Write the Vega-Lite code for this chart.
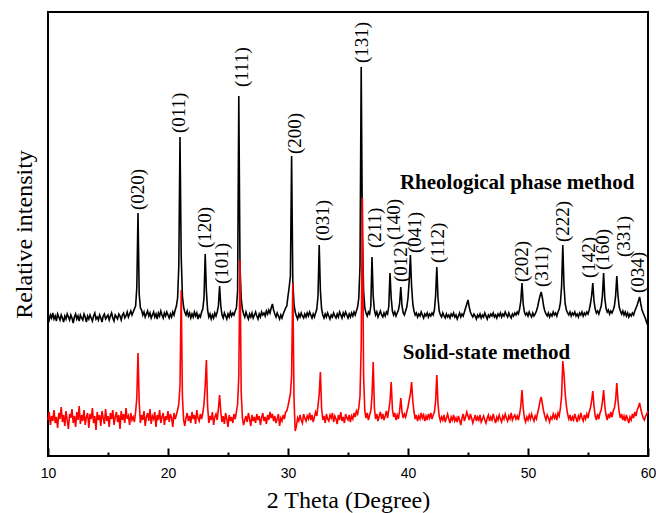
{
  "$schema": "https://vega.github.io/schema/vega-lite/v6.json",
  "width": 600,
  "height": 444,
  "autosize": {"type": "none"},
  "padding": {"left": 48, "top": 12, "right": 8, "bottom": 57},
  "background": "white",
  "config": {
    "view": {"stroke": "black", "strokeWidth": 2},
    "axis": {"grid": false}
  },
  "data": {"values": [
{"t":10.0,"a":140,"b":36},{"t":10.1,"a":136,"b":44},{"t":10.2,"a":141,"b":31},{"t":10.3,"a":138,"b":40},{"t":10.4,"a":143,"b":35},{"t":10.5,"a":137,"b":46},{"t":10.6,"a":140,"b":33},{"t":10.7,"a":135,"b":39},{"t":10.8,"a":142,"b":28},{"t":10.9,"a":139,"b":43},
{"t":11.0,"a":136,"b":37},{"t":11.1,"a":141,"b":49},{"t":11.2,"a":138,"b":34},{"t":11.3,"a":134,"b":41},{"t":11.4,"a":140,"b":30},{"t":11.5,"a":137,"b":45},{"t":11.6,"a":142,"b":36},{"t":11.7,"a":139,"b":27},{"t":11.8,"a":136,"b":42},{"t":11.9,"a":141,"b":38},
{"t":12.0,"a":138,"b":47},{"t":12.1,"a":133,"b":33},{"t":12.2,"a":139,"b":40},{"t":12.3,"a":142,"b":29},{"t":12.4,"a":137,"b":44},{"t":12.5,"a":140,"b":36},{"t":12.6,"a":135,"b":50},{"t":12.7,"a":141,"b":32},{"t":12.8,"a":138,"b":41},{"t":12.9,"a":136,"b":35},
{"t":13.0,"a":142,"b":46},{"t":13.1,"a":139,"b":31},{"t":13.2,"a":134,"b":39},{"t":13.3,"a":140,"b":43},{"t":13.4,"a":137,"b":28},{"t":13.5,"a":141,"b":42},{"t":13.6,"a":138,"b":37},{"t":13.7,"a":135,"b":48},{"t":13.8,"a":140,"b":33},{"t":13.9,"a":143,"b":40},
{"t":14.0,"a":137,"b":26},{"t":14.1,"a":139,"b":44},{"t":14.2,"a":136,"b":36},{"t":14.3,"a":141,"b":41},{"t":14.4,"a":138,"b":30},{"t":14.5,"a":134,"b":45},{"t":14.6,"a":140,"b":38},{"t":14.7,"a":142,"b":32},{"t":14.8,"a":137,"b":47},{"t":14.9,"a":139,"b":35},
{"t":15.0,"a":141,"b":40},{"t":15.1,"a":136,"b":29},{"t":15.2,"a":140,"b":43},{"t":15.3,"a":143,"b":37},{"t":15.4,"a":138,"b":46},{"t":15.5,"a":135,"b":31},{"t":15.6,"a":141,"b":39},{"t":15.7,"a":139,"b":44},{"t":15.8,"a":137,"b":34},{"t":15.9,"a":142,"b":41},
{"t":16.0,"a":140,"b":27},{"t":16.1,"a":136,"b":45},{"t":16.2,"a":141,"b":36},{"t":16.3,"a":143,"b":42},{"t":16.4,"a":138,"b":33},{"t":16.5,"a":140,"b":48},{"t":16.6,"a":144,"b":37},{"t":16.7,"a":139,"b":40},{"t":16.8,"a":142,"b":31},{"t":16.9,"a":145,"b":43},
{"t":17.0,"a":141,"b":36},{"t":17.1,"a":144,"b":39},{"t":17.2,"a":147,"b":34},{"t":17.3,"a":150,"b":44},{"t":17.4,"a":168,"b":58},{"t":17.5,"a":243,"b":103},{"t":17.6,"a":162,"b":54},{"t":17.7,"a":148,"b":33},{"t":17.8,"a":146,"b":41},{"t":17.9,"a":141,"b":36},
{"t":18.0,"a":144,"b":45},{"t":18.1,"a":139,"b":30},{"t":18.2,"a":142,"b":39},{"t":18.3,"a":145,"b":43},{"t":18.4,"a":140,"b":35},{"t":18.5,"a":143,"b":47},{"t":18.6,"a":138,"b":32},{"t":18.7,"a":141,"b":40},{"t":18.8,"a":144,"b":37},{"t":18.9,"a":139,"b":44},
{"t":19.0,"a":142,"b":29},{"t":19.1,"a":137,"b":41},{"t":19.2,"a":143,"b":36},{"t":19.3,"a":140,"b":46},{"t":19.4,"a":145,"b":33},{"t":19.5,"a":141,"b":39},{"t":19.6,"a":138,"b":43},{"t":19.7,"a":143,"b":31},{"t":19.8,"a":140,"b":40},{"t":19.9,"a":144,"b":36},
{"t":20.0,"a":141,"b":45},{"t":20.1,"a":138,"b":34},{"t":20.2,"a":142,"b":42},{"t":20.3,"a":139,"b":38},{"t":20.4,"a":144,"b":29},{"t":20.5,"a":141,"b":43},{"t":20.6,"a":146,"b":37},{"t":20.7,"a":150,"b":41},{"t":20.8,"a":158,"b":46},{"t":20.9,"a":190,"b":52},
{"t":21.0,"a":319,"b":70},{"t":21.1,"a":200,"b":166},{"t":21.2,"a":160,"b":60},{"t":21.3,"a":149,"b":36},{"t":21.4,"a":144,"b":30},{"t":21.5,"a":141,"b":38},{"t":21.6,"a":145,"b":43},{"t":21.7,"a":140,"b":35},{"t":21.8,"a":143,"b":40},{"t":21.9,"a":138,"b":33},
{"t":22.0,"a":142,"b":44},{"t":22.1,"a":139,"b":37},{"t":22.2,"a":144,"b":41},{"t":22.3,"a":140,"b":32},{"t":22.4,"a":143,"b":46},{"t":22.5,"a":137,"b":38},{"t":22.6,"a":141,"b":35},{"t":22.7,"a":139,"b":42},{"t":22.8,"a":144,"b":37},{"t":22.9,"a":147,"b":43},
{"t":23.0,"a":158,"b":52},{"t":23.1,"a":202,"b":70},{"t":23.2,"a":165,"b":96},{"t":23.3,"a":146,"b":50},{"t":23.4,"a":139,"b":33},{"t":23.5,"a":142,"b":40},{"t":23.6,"a":137,"b":36},{"t":23.7,"a":141,"b":44},{"t":23.8,"a":138,"b":31},{"t":23.9,"a":143,"b":39},
{"t":24.0,"a":140,"b":42},{"t":24.1,"a":144,"b":36},{"t":24.2,"a":150,"b":47},{"t":24.3,"a":170,"b":61},{"t":24.4,"a":150,"b":44},{"t":24.5,"a":141,"b":34},{"t":24.6,"a":138,"b":40},{"t":24.7,"a":143,"b":32},{"t":24.8,"a":140,"b":43},{"t":24.9,"a":137,"b":37},
{"t":25.0,"a":142,"b":29},{"t":25.1,"a":139,"b":41},{"t":25.2,"a":144,"b":35},{"t":25.3,"a":140,"b":39},{"t":25.4,"a":143,"b":33},{"t":25.5,"a":141,"b":42},{"t":25.6,"a":145,"b":37},{"t":25.7,"a":148,"b":44},{"t":25.8,"a":165,"b":52},{"t":25.9,"a":360,"b":80},
{"t":26.0,"a":190,"b":196},{"t":26.1,"a":158,"b":64},{"t":26.2,"a":147,"b":38},{"t":26.3,"a":142,"b":31},{"t":26.4,"a":139,"b":36},{"t":26.5,"a":144,"b":40},{"t":26.6,"a":140,"b":34},{"t":26.7,"a":137,"b":43},{"t":26.8,"a":142,"b":37},{"t":26.9,"a":139,"b":30},
{"t":27.0,"a":143,"b":41},{"t":27.1,"a":138,"b":35},{"t":27.2,"a":141,"b":39},{"t":27.3,"a":144,"b":33},{"t":27.4,"a":140,"b":42},{"t":27.5,"a":137,"b":36},{"t":27.6,"a":142,"b":40},{"t":27.7,"a":139,"b":31},{"t":27.8,"a":144,"b":38},{"t":27.9,"a":141,"b":43},
{"t":28.0,"a":143,"b":35},{"t":28.1,"a":140,"b":39},{"t":28.2,"a":145,"b":32},{"t":28.3,"a":142,"b":41},{"t":28.4,"a":146,"b":36},{"t":28.5,"a":143,"b":44},{"t":28.6,"a":148,"b":38},{"t":28.7,"a":152,"b":42},{"t":28.8,"a":146,"b":35},{"t":28.9,"a":142,"b":40},
{"t":29.0,"a":139,"b":33},{"t":29.1,"a":143,"b":37},{"t":29.2,"a":140,"b":42},{"t":29.3,"a":137,"b":30},{"t":29.4,"a":141,"b":38},{"t":29.5,"a":138,"b":35},{"t":29.6,"a":142,"b":41},{"t":29.7,"a":145,"b":37},{"t":29.8,"a":148,"b":44},{"t":29.9,"a":150,"b":45},
{"t":30.0,"a":160,"b":50},{"t":30.1,"a":169,"b":56},{"t":30.2,"a":180,"b":62},{"t":30.3,"a":300,"b":80},{"t":30.4,"a":175,"b":173},{"t":30.5,"a":152,"b":58},{"t":30.6,"a":144,"b":25},{"t":30.7,"a":140,"b":30},{"t":30.8,"a":137,"b":38},{"t":30.9,"a":142,"b":35},
{"t":31.0,"a":139,"b":41},{"t":31.1,"a":143,"b":36},{"t":31.2,"a":140,"b":33},{"t":31.3,"a":138,"b":42},{"t":31.4,"a":142,"b":38},{"t":31.5,"a":139,"b":35},{"t":31.6,"a":143,"b":40},{"t":31.7,"a":140,"b":37},{"t":31.8,"a":144,"b":43},{"t":31.9,"a":141,"b":36},
{"t":32.0,"a":138,"b":41},{"t":32.1,"a":142,"b":34},{"t":32.2,"a":139,"b":39},{"t":32.3,"a":143,"b":44},{"t":32.4,"a":147,"b":40},{"t":32.5,"a":160,"b":50},{"t":32.6,"a":211,"b":62},{"t":32.7,"a":165,"b":84},{"t":32.8,"a":147,"b":48},{"t":32.9,"a":141,"b":36},
{"t":33.0,"a":138,"b":40},{"t":33.1,"a":142,"b":33},{"t":33.2,"a":139,"b":42},{"t":33.3,"a":143,"b":37},{"t":33.4,"a":140,"b":35},{"t":33.5,"a":137,"b":41},{"t":33.6,"a":141,"b":38},{"t":33.7,"a":139,"b":43},{"t":33.8,"a":143,"b":34},{"t":33.9,"a":140,"b":40},
{"t":34.0,"a":138,"b":37},{"t":34.1,"a":142,"b":32},{"t":34.2,"a":139,"b":41},{"t":34.3,"a":144,"b":36},{"t":34.4,"a":141,"b":44},{"t":34.5,"a":138,"b":35},{"t":34.6,"a":143,"b":39},{"t":34.7,"a":140,"b":33},{"t":34.8,"a":144,"b":42},{"t":34.9,"a":141,"b":38},
{"t":35.0,"a":138,"b":36},{"t":35.1,"a":142,"b":41},{"t":35.2,"a":139,"b":34},{"t":35.3,"a":143,"b":40},{"t":35.4,"a":140,"b":37},{"t":35.5,"a":144,"b":43},{"t":35.6,"a":141,"b":39},{"t":35.7,"a":145,"b":45},{"t":35.8,"a":149,"b":42},{"t":35.9,"a":158,"b":48},
{"t":36.0,"a":190,"b":60},{"t":36.1,"a":389,"b":110},{"t":36.2,"a":220,"b":258},{"t":36.3,"a":165,"b":80},{"t":36.4,"a":148,"b":45},{"t":36.5,"a":143,"b":38},{"t":36.6,"a":140,"b":43},{"t":36.7,"a":144,"b":36},{"t":36.8,"a":142,"b":41},{"t":36.9,"a":150,"b":45},
{"t":37.0,"a":199,"b":60},{"t":37.1,"a":160,"b":94},{"t":37.2,"a":146,"b":48},{"t":37.3,"a":141,"b":37},{"t":37.4,"a":144,"b":42},{"t":37.5,"a":139,"b":35},{"t":37.6,"a":142,"b":40},{"t":37.7,"a":145,"b":44},{"t":37.8,"a":141,"b":37},{"t":37.9,"a":139,"b":42},
{"t":38.0,"a":143,"b":36},{"t":38.1,"a":140,"b":40},{"t":38.2,"a":144,"b":45},{"t":38.3,"a":142,"b":38},{"t":38.4,"a":150,"b":46},{"t":38.5,"a":183,"b":55},{"t":38.6,"a":158,"b":74},{"t":38.7,"a":145,"b":47},{"t":38.8,"a":141,"b":39},{"t":38.9,"a":144,"b":43},
{"t":39.0,"a":140,"b":36},{"t":39.1,"a":143,"b":41},{"t":39.2,"a":146,"b":37},{"t":39.3,"a":152,"b":45},{"t":39.4,"a":169,"b":58},{"t":39.5,"a":150,"b":44},{"t":39.6,"a":143,"b":38},{"t":39.7,"a":141,"b":42},{"t":39.8,"a":145,"b":39},{"t":39.9,"a":149,"b":44},
{"t":40.0,"a":158,"b":49},{"t":40.1,"a":175,"b":56},{"t":40.2,"a":201,"b":62},{"t":40.3,"a":170,"b":74},{"t":40.4,"a":152,"b":55},{"t":40.5,"a":145,"b":44},{"t":40.6,"a":141,"b":37},{"t":40.7,"a":143,"b":41},{"t":40.8,"a":139,"b":35},{"t":40.9,"a":142,"b":40},
{"t":41.0,"a":140,"b":37},{"t":41.1,"a":144,"b":43},{"t":41.2,"a":141,"b":38},{"t":41.3,"a":138,"b":41},{"t":41.4,"a":142,"b":35},{"t":41.5,"a":140,"b":40},{"t":41.6,"a":143,"b":36},{"t":41.7,"a":139,"b":42},{"t":41.8,"a":142,"b":38},{"t":41.9,"a":140,"b":43},
{"t":42.0,"a":143,"b":37},{"t":42.1,"a":141,"b":41},{"t":42.2,"a":146,"b":44},{"t":42.3,"a":160,"b":55},{"t":42.4,"a":189,"b":81},{"t":42.5,"a":158,"b":52},{"t":42.6,"a":145,"b":40},{"t":42.7,"a":141,"b":35},{"t":42.8,"a":139,"b":39},{"t":42.9,"a":143,"b":36},
{"t":43.0,"a":140,"b":41},{"t":43.1,"a":138,"b":34},{"t":43.2,"a":142,"b":38},{"t":43.3,"a":139,"b":42},{"t":43.4,"a":141,"b":37},{"t":43.5,"a":138,"b":33},{"t":43.6,"a":142,"b":39},{"t":43.7,"a":140,"b":36},{"t":43.8,"a":143,"b":41},{"t":43.9,"a":139,"b":35},
{"t":44.0,"a":141,"b":38},{"t":44.1,"a":137,"b":34},{"t":44.2,"a":140,"b":40},{"t":44.3,"a":143,"b":36},{"t":44.4,"a":139,"b":31},{"t":44.5,"a":142,"b":38},{"t":44.6,"a":140,"b":42},{"t":44.7,"a":144,"b":35},{"t":44.8,"a":148,"b":39},{"t":44.9,"a":152,"b":44},
{"t":45.0,"a":156,"b":40},{"t":45.1,"a":149,"b":36},{"t":45.2,"a":144,"b":42},{"t":45.3,"a":141,"b":38},{"t":45.4,"a":139,"b":33},{"t":45.5,"a":142,"b":37},{"t":45.6,"a":140,"b":41},{"t":45.7,"a":137,"b":35},{"t":45.8,"a":141,"b":39},{"t":45.9,"a":139,"b":36},
{"t":46.0,"a":142,"b":41},{"t":46.1,"a":138,"b":34},{"t":46.2,"a":141,"b":37},{"t":46.3,"a":139,"b":40},{"t":46.4,"a":143,"b":36},{"t":46.5,"a":140,"b":33},{"t":46.6,"a":137,"b":38},{"t":46.7,"a":141,"b":41},{"t":46.8,"a":139,"b":35},{"t":46.9,"a":142,"b":39},
{"t":47.0,"a":140,"b":36},{"t":47.1,"a":143,"b":42},{"t":47.2,"a":139,"b":37},{"t":47.3,"a":141,"b":33},{"t":47.4,"a":138,"b":39},{"t":47.5,"a":142,"b":36},{"t":47.6,"a":140,"b":41},{"t":47.7,"a":143,"b":37},{"t":47.8,"a":139,"b":34},{"t":47.9,"a":142,"b":40},
{"t":48.0,"a":140,"b":37},{"t":48.1,"a":144,"b":42},{"t":48.2,"a":141,"b":38},{"t":48.3,"a":139,"b":35},{"t":48.4,"a":143,"b":40},{"t":48.5,"a":140,"b":37},{"t":48.6,"a":138,"b":43},{"t":48.7,"a":142,"b":36},{"t":48.8,"a":140,"b":39},{"t":48.9,"a":143,"b":41},
{"t":49.0,"a":141,"b":37},{"t":49.1,"a":144,"b":40},{"t":49.2,"a":142,"b":36},{"t":49.3,"a":147,"b":42},{"t":49.4,"a":155,"b":50},{"t":49.5,"a":173,"b":66},{"t":49.6,"a":152,"b":48},{"t":49.7,"a":144,"b":38},{"t":49.8,"a":141,"b":34},{"t":49.9,"a":143,"b":39},
{"t":50.0,"a":140,"b":36},{"t":50.1,"a":144,"b":41},{"t":50.2,"a":141,"b":37},{"t":50.3,"a":139,"b":42},{"t":50.4,"a":143,"b":38},{"t":50.5,"a":140,"b":35},{"t":50.6,"a":142,"b":40},{"t":50.7,"a":145,"b":37},{"t":50.8,"a":149,"b":43},{"t":50.9,"a":155,"b":48},
{"t":51.0,"a":160,"b":55},{"t":51.1,"a":164,"b":59},{"t":51.2,"a":158,"b":52},{"t":51.3,"a":150,"b":45},{"t":51.4,"a":145,"b":40},{"t":51.5,"a":142,"b":36},{"t":51.6,"a":140,"b":41},{"t":51.7,"a":143,"b":38},{"t":51.8,"a":139,"b":34},{"t":51.9,"a":142,"b":39},
{"t":52.0,"a":140,"b":37},{"t":52.1,"a":144,"b":42},{"t":52.2,"a":141,"b":38},{"t":52.3,"a":143,"b":41},{"t":52.4,"a":140,"b":36},{"t":52.5,"a":144,"b":43},{"t":52.6,"a":147,"b":40},{"t":52.7,"a":153,"b":48},{"t":52.8,"a":170,"b":60},{"t":52.9,"a":211,"b":95},
{"t":53.0,"a":170,"b":82},{"t":53.1,"a":152,"b":62},{"t":53.2,"a":146,"b":50},{"t":53.3,"a":143,"b":42},{"t":53.4,"a":141,"b":37},{"t":53.5,"a":144,"b":41},{"t":53.6,"a":140,"b":35},{"t":53.7,"a":143,"b":39},{"t":53.8,"a":141,"b":36},{"t":53.9,"a":144,"b":42},
{"t":54.0,"a":140,"b":38},{"t":54.1,"a":142,"b":34},{"t":54.2,"a":139,"b":40},{"t":54.3,"a":143,"b":37},{"t":54.4,"a":141,"b":43},{"t":54.5,"a":144,"b":38},{"t":54.6,"a":140,"b":35},{"t":54.7,"a":143,"b":41},{"t":54.8,"a":141,"b":37},{"t":54.9,"a":144,"b":42},
{"t":55.0,"a":142,"b":38},{"t":55.1,"a":146,"b":44},{"t":55.2,"a":152,"b":48},{"t":55.3,"a":160,"b":55},{"t":55.4,"a":173,"b":65},{"t":55.5,"a":155,"b":50},{"t":55.6,"a":147,"b":40},{"t":55.7,"a":143,"b":36},{"t":55.8,"a":145,"b":42},{"t":55.9,"a":142,"b":37},
{"t":56.0,"a":146,"b":43},{"t":56.1,"a":150,"b":46},{"t":56.2,"a":160,"b":54},{"t":56.3,"a":183,"b":66},{"t":56.4,"a":158,"b":50},{"t":56.5,"a":148,"b":41},{"t":56.6,"a":144,"b":36},{"t":56.7,"a":146,"b":42},{"t":56.8,"a":142,"b":38},{"t":56.9,"a":145,"b":44},
{"t":57.0,"a":143,"b":39},{"t":57.1,"a":146,"b":45},{"t":57.2,"a":150,"b":48},{"t":57.3,"a":160,"b":56},{"t":57.4,"a":180,"b":73},{"t":57.5,"a":160,"b":55},{"t":57.6,"a":149,"b":44},{"t":57.7,"a":145,"b":38},{"t":57.8,"a":142,"b":42},{"t":57.9,"a":145,"b":36},
{"t":58.0,"a":141,"b":40},{"t":58.1,"a":144,"b":35},{"t":58.2,"a":140,"b":41},{"t":58.3,"a":143,"b":37},{"t":58.4,"a":139,"b":33},{"t":58.5,"a":142,"b":39},{"t":58.6,"a":140,"b":36},{"t":58.7,"a":143,"b":42},{"t":58.8,"a":141,"b":38},{"t":58.9,"a":145,"b":44},
{"t":59.0,"a":148,"b":40},{"t":59.1,"a":151,"b":46},{"t":59.2,"a":155,"b":49},{"t":59.3,"a":159,"b":53},{"t":59.4,"a":152,"b":47},{"t":59.5,"a":146,"b":42},{"t":59.6,"a":143,"b":38},{"t":59.7,"a":140,"b":36},{"t":59.8,"a":137,"b":40},{"t":59.9,"a":133,"b":42},
{"t":60.0,"a":130,"b":45}
  ]},
  "layer": [
    {
      "mark": {"type": "line", "color": "black", "strokeWidth": 1.6},
      "encoding": {
        "x": {"field": "t", "type": "quantitative",
          "scale": {"domain": [10, 60], "nice": false, "zero": false},
          "axis": {
            "title": "2 Theta (Degree)",
            "titleFont": "Liberation Serif", "titleFontSize": 24, "titleFontWeight": "normal", "titleColor": "black",
            "titlePadding": 8,
            "values": [10, 15, 20, 25, 30, 35, 40, 45, 50, 55, 60],
            "labelExpr": "datum.value % 10 === 0 ? datum.label : ''",
            "labelFont": "Liberation Sans", "labelFontSize": 14, "labelColor": "black",
            "labelFlush": false, "labelPadding": 18,
            "domain": false,
            "tickColor": "black", "tickWidth": 2,
            "tickSize": {"condition": {"test": "datum.value % 10 === 0", "value": -8}, "value": -4}
          }
        },
        "y": {"field": "a", "type": "quantitative",
          "scale": {"domain": [0, 444], "nice": false, "zero": false},
          "axis": {
            "title": "Relative intensity",
            "titleFont": "Liberation Serif", "titleFontSize": 24, "titleFontWeight": "normal", "titleColor": "black",
            "titlePadding": 12,
            "labels": false, "ticks": false, "domain": false
          }
        }
      }
    },
    {
      "mark": {"type": "line", "color": "#ff0000", "strokeWidth": 1.6},
      "encoding": {
        "x": {"field": "t", "type": "quantitative"},
        "y": {"field": "b", "type": "quantitative"}
      }
    },
    {
      "data": {"values": [
        {"x": 17.5, "y": 246, "l": "(020)"},
        {"x": 20.9, "y": 323, "l": "(011)"},
        {"x": 23.1, "y": 208, "l": "(120)"},
        {"x": 24.47, "y": 172, "l": "(101)"},
        {"x": 26.14, "y": 369, "l": "(111)"},
        {"x": 30.58, "y": 302, "l": "(200)"},
        {"x": 32.92, "y": 215, "l": "(031)"},
        {"x": 36.19, "y": 393, "l": "(131)"},
        {"x": 37.25, "y": 208, "l": "(211)"},
        {"x": 38.86, "y": 216, "l": "(140)"},
        {"x": 39.42, "y": 174, "l": "(012)"},
        {"x": 40.58, "y": 203, "l": "(041)"},
        {"x": 42.53, "y": 193, "l": "(112)"},
        {"x": 49.53, "y": 174, "l": "(202)"},
        {"x": 51.19, "y": 169, "l": "(311)"},
        {"x": 52.94, "y": 214, "l": "(222)"},
        {"x": 55.11, "y": 178, "l": "(142)"},
        {"x": 56.28, "y": 186, "l": "(160)"},
        {"x": 58.0, "y": 199, "l": "(331)"},
        {"x": 59.19, "y": 163, "l": "(034)"}
      ]},
      "mark": {"type": "text", "angle": 270, "align": "left", "baseline": "middle", "font": "Liberation Serif", "fontSize": 19, "color": "black"},
      "encoding": {
        "x": {"field": "x", "type": "quantitative"},
        "y": {"field": "y", "type": "quantitative"},
        "text": {"field": "l"}
      }
    },
    {
      "data": {"values": [
        {"x": 49.1, "y": 273, "l": "Rheological phase method"},
        {"x": 46.54, "y": 103, "l": "Solid-state method"}
      ]},
      "mark": {"type": "text", "align": "center", "baseline": "middle", "font": "Liberation Serif", "fontSize": 21, "fontWeight": "bold", "color": "black"},
      "encoding": {
        "x": {"field": "x", "type": "quantitative"},
        "y": {"field": "y", "type": "quantitative"},
        "text": {"field": "l"}
      }
    }
  ]
}
